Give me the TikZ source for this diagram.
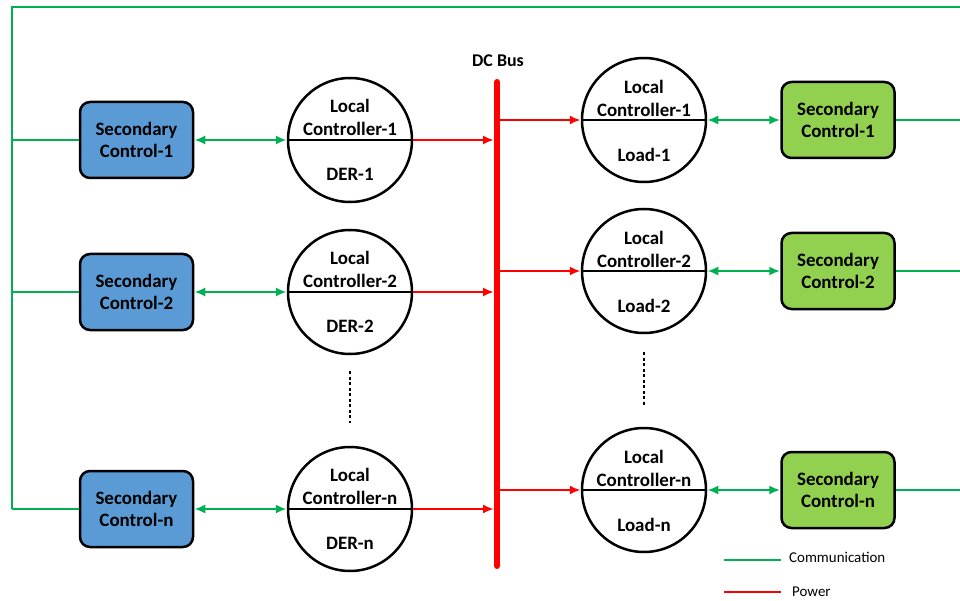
\documentclass[tikz,border=0pt]{standalone}
\usepackage{fontspec}
\setmainfont{Carlito}
\usetikzlibrary{arrows.meta}
\definecolor{cgreen}{HTML}{00B050}
\definecolor{cred}{HTML}{FF0000}
\definecolor{cblue}{HTML}{5B9BD5}
\definecolor{clgreen}{HTML}{92D050}
\begin{document}
\begin{tikzpicture}[x=1bp,y=-1bp,
 sbox/.style={draw=black, line width=2.5bp, rounded corners=10bp, minimum width=113bp, minimum height=76bp, align=center, font=\fontsize{19}{22}\selectfont\bfseries, inner sep=0pt},
 lc/.style={draw=black, line width=2.5bp, circle, minimum size=124bp, inner sep=0pt},
 ctext/.style={align=center, font=\fontsize{19}{23}\selectfont\bfseries, inner sep=0pt},
 comm/.style={draw=cgreen, line width=2.5bp},
 pow/.style={draw=cred, line width=2.5bp},
 tip/.style={-{Latex[length=11bp,width=9bp]}},
 dtip/.style={{Latex[length=11bp,width=9bp]}-{Latex[length=11bp,width=9bp]}},
 legtext/.style={anchor=west, font=\fontsize{15}{17}\selectfont, inner sep=0pt},
 dots/.style={draw=black, line width=2.5bp, dash pattern=on 3bp off 2.5bp}
]
\useasboundingbox (0,0) rectangle (960,601);

% frame coordinates
\coordinate (tl) at (12,7);
\coordinate (tr) at (960,7);
\coordinate (bl) at (12,509);
\coordinate (bustop) at (497,82);
\coordinate (busbot) at (497,566);

% DC bus
\draw[draw=cred, line width=6bp, line cap=round] (bustop) -- (busbot);
\node[ctext, font=\fontsize{18}{22}\selectfont\bfseries] (buslabel) at (498,61) {DC Bus};

% left side
\foreach \i/\y/\t in {1/140/1, 2/292/2, 3/509/n}{
  \node[sbox, fill=cblue] (s\i) at (136.5,\y) {Secondary\\Control-\t};
  \node[lc] (d\i) at (350,\y) {};
  \draw[line width=2.5bp] (d\i.west) -- (d\i.east);
  \node[ctext] (dt\i) at (350,\y-23) {Local\\Controller-\t};
  \node[ctext] (db\i) at (350,\y+34) {DER-\t};
  \draw[comm, dtip] (s\i.east) -- (d\i.west);
  \draw[pow, tip] (d\i.east) -- ([xshift=-3bp]d\i.east -| bustop);
  \draw[comm] (s\i.west) -- (s\i.west -| tl);
}

% right side
\foreach \i/\y/\t in {1/120/1, 2/271/2, 3/490/n}{
  \node[lc] (l\i) at (644,\y) {};
  \draw[line width=2.5bp] (l\i.west) -- (l\i.east);
  \node[ctext] (lt\i) at (644,\y-22) {Local\\Controller-\t};
  \node[ctext] (lb\i) at (644,\y+35) {Load-\t};
  \node[sbox, fill=clgreen] (g\i) at (838,\y) {Secondary\\Control-\t};
  \draw[pow, tip] ([xshift=3bp]l\i.west -| bustop) -- (l\i.west);
  \draw[comm, dtip] (l\i.east) -- (g\i.west);
  \draw[comm] (g\i.east) -- (g\i.east -| tr);
}

% outer communication loop
\draw[comm] (tr) -- (tl) -- (bl);

% continuation dots
\coordinate (ld1) at (350,371);
\coordinate (ld2) at (350,423);
\coordinate (rd1) at (644,352);
\coordinate (rd2) at (644,405);
\draw[dots] (ld1) -- (ld2);
\draw[dots] (rd1) -- (rd2);

% legend
\coordinate (lc1) at (724,560);
\coordinate (lc2) at (781,560);
\coordinate (lp1) at (724,592);
\coordinate (lp2) at (781,592);
\draw[comm] (lc1) -- (lc2);
\draw[pow] (lp1) -- (lp2);
\node[legtext] (lcomm) at (789,557) {Communication};
\node[legtext] (lpow) at (792,592) {Power};
\end{tikzpicture}
\end{document}
